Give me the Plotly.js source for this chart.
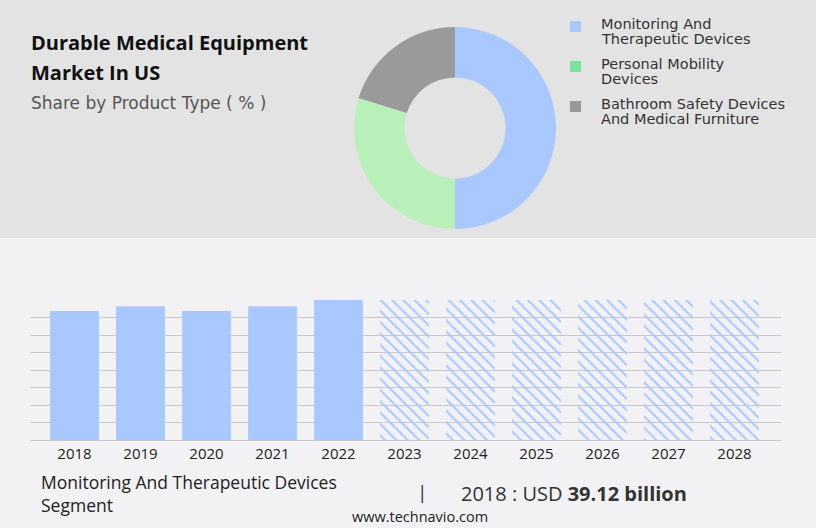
<!DOCTYPE html>
<html>
<head>
<meta charset="utf-8">
<script src="https://cdn.plot.ly/plotly-3.0.1.min.js"></script>
<style>
  html, body { margin: 0; padding: 0; background: #f2f2f4; }
  #chart { width: 816px; height: 528px; }
</style>
</head>
<body>
<div id="chart"></div>
<script>
// share by product type (%)
var segments = ["Monitoring And Therapeutic Devices", "Personal Mobility Devices", "Bathroom Safety Devices And Medical Furniture"];
var segmentShares = [50.0, 29.8, 20.2];
var legendLines = [["Monitoring And", "Therapeutic Devices"], ["Personal Mobility", "Devices"], ["Bathroom Safety Devices", "And Medical Furniture"]];

// segment size by year (USD billion), forecast years are hatched
var actualYears = ["2018", "2019", "2020", "2021", "2022"];
var actualValues = [39.12, 40.6, 39.1, 40.6, 42.45];
var forecastYears = ["2023", "2024", "2025", "2026", "2027", "2028"];
var forecastValues = [42.45, 42.45, 42.45, 42.45, 42.45, 42.45];

var W = 816, H = 528;
function px(x) { return x / W; }
function py(y) { return 1 - y / H; }

var pieColors = ["#a8c8fe", "#b9efb9", "#9a9a9a"];
var legendColors = ["#a8c8ff", "#76e49a", "#999999"];
var barBlue = "#a8c8ff";

var pie = {
    type: "pie",
    labels: segments,
    values: segmentShares,
    hole: 0.5,
    sort: false,
    direction: "clockwise",
    rotation: 0,
    textinfo: "none",
    hoverinfo: "label+percent",
    marker: { colors: pieColors, line: { width: 0 } },
    domain: { x: [px(354), px(556)], y: [py(229), py(27)] },
    showlegend: false
};

var actual = {
    type: "bar",
    x: actualYears,
    y: actualValues,
    marker: { color: barBlue, line: { width: 0 } },
    showlegend: false,
    hoverinfo: "x+y"
};

var forecast = {
    type: "bar",
    x: forecastYears,
    y: forecastValues,
    marker: {
        color: barBlue,
        line: { width: 0 },
        pattern: { shape: "\\", size: 8, solidity: 0.25, fillmode: "replace" }
    },
    showlegend: false,
    hoverinfo: "x"
};

var ymax = Math.max.apply(null, actualValues.concat(forecastValues));

var annotations = [];
function note(x, y, text, size, color, family, anchor) {
    annotations.push({
        xref: "paper", yref: "paper", x: px(x), y: py(y),
        xanchor: anchor || "left", yanchor: "middle", align: "left",
        text: text, showarrow: false,
        font: { size: size, color: color, family: family }
    });
}

// header texts
note(29, 43, "<b>Durable Medical Equipment</b>", 20, "#111", "Open Sans");
note(29, 73, "<b>Market In US</b>", 20, "#111", "Open Sans");
note(29, 103, "Share by Product Type ( % )", 17, "#555", "DejaVu Sans");

// custom legend
var shapes = [
    { type: "rect", xref: "paper", yref: "paper", x0: 0, x1: 1, y0: py(238), y1: 1,
      fillcolor: "#e3e3e3", line: { width: 0 }, layer: "below" }
];
var legendTop = [21, 61, 101];
legendLines.forEach(function (lines, i) {
    var y = legendTop[i];
    shapes.push({ type: "rect", xref: "paper", yref: "paper",
        x0: px(570), x1: px(581), y0: py(y + 11), y1: py(y),
        fillcolor: legendColors[i], line: { width: 0 } });
    note(599, y + 3, lines[0], 14.5, "#333", "DejaVu Sans");
    note(599, y + 18, lines[1], 14.5, "#333", "DejaVu Sans");
});

// footer texts
note(39, 493.5, "Monitoring And Therapeutic Devices<br>Segment", 17.5, "#222", "Open Sans");
note(422, 492, "|", 19, "#333", "Open Sans", "center");
note(459, 493, "2018 : USD <b>" + actualValues[0].toFixed(2) + " billion</b>", 20, "#333", "Open Sans");
note(420, 516, "www.technavio.com", 14.5, "#222", "Open Sans", "center");

var layout = {
    width: W,
    height: H,
    margin: { l: 0, r: 0, t: 0, b: 0 },
    paper_bgcolor: "#f2f2f4",
    plot_bgcolor: "rgba(0,0,0,0)",
    barmode: "overlay",
    bargap: 0.26,
    xaxis: {
        type: "category",
        categoryorder: "array",
        categoryarray: actualYears.concat(forecastYears),
        domain: [px(30), px(781)],
        range: [-0.674, 10.705],
        showgrid: false,
        zeroline: false,
        showline: false,
        ticks: "",
        ticklabelstandoff: 3,
        tickfont: { size: 15, color: "#222", family: "Open Sans" },
        fixedrange: true
    },
    yaxis: {
        domain: [py(440), py(300)],
        range: [0, ymax * 1.0005],
        dtick: ymax / 8,
        tick0: 0,
        showticklabels: false,
        showgrid: true,
        gridcolor: "#c8c8c8",
        gridwidth: 1,
        zeroline: true,
        zerolinecolor: "#c8c8c8",
        zerolinewidth: 1,
        fixedrange: true
    },
    shapes: shapes,
    annotations: annotations
};

Plotly.newPlot("chart", [pie, actual, forecast], layout, { displayModeBar: false, staticPlot: true });
</script>
</body>
</html>
